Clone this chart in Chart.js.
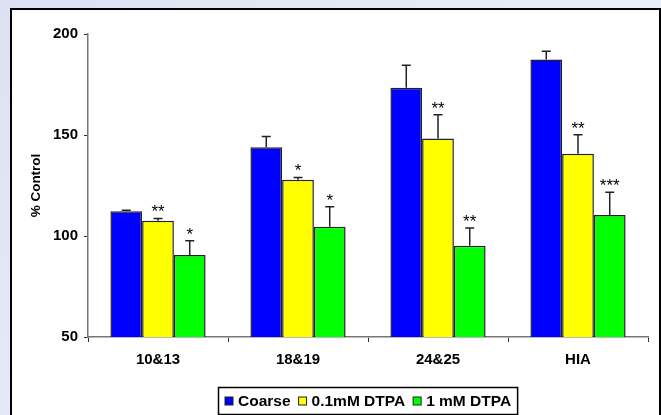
<!DOCTYPE html>
<html>
<head>
<meta charset="utf-8">
<script src="https://cdn.jsdelivr.net/npm/chart.js@4"></script>
<style>
  html, body { margin: 0; padding: 0; }
  body {
    width: 661px; height: 415px; overflow: hidden; position: relative;
    background: linear-gradient(135deg, #dde1f2 0%, #e9ebf7 50%, #f1f2fa 100%);
  }
  #frame {
    position: absolute; left: 10px; top: 8px; width: 647px; height: 420px;
    border: 2px solid #000; background: #fff;
  }
  #wrap { position: absolute; left: 0; top: 0; width: 661px; height: 415px; }
</style>
</head>
<body>
<div id="frame"></div>
<div id="wrap"><canvas id="survey" width="661" height="415"></canvas></div>
<script>
const categories = ['10&13', '18&19', '24&25', 'HIA'];
const seriesNames = ['Coarse', '0.1mM DTPA', '1 mM DTPA'];
const coarse = [112.2, 143.9, 173.4, 187.4];
const coarseErr = [0.5, 5.4, 11.1, 4.0];
const dtpaLow = [107.6, 127.9, 148.3, 140.7];
const dtpaLowErr = [1.1, 1.1, 11.7, 9.4];
const dtpaHigh = [90.6, 104.6, 95.2, 110.4];
const dtpaHighErr = [7.1, 9.9, 8.8, 11.2];
const coarseStars = ['', '', '', ''];
const dtpaLowStars = ['**', '*', '**', '**'];
const dtpaHighStars = ['*', '*', '**', '***'];
const yTicks = [50, 100, 150, 200];

const errors = [coarseErr, dtpaLowErr, dtpaHighErr];
const stars = [coarseStars, dtpaLowStars, dtpaHighStars];
const colors = ['#0000ff', '#ffff00', '#00ff00'];

// error bars (upper only) + significance stars
const errorBars = {
    id: 'errorBars',
    afterDatasetsDraw(chart) {
        const c = chart.ctx;
        const y = chart.scales.y;
        c.save();
        c.strokeStyle = '#222';
        c.lineWidth = 1.5;
        chart.data.datasets.forEach((ds, i) => {
            chart.getDatasetMeta(i).data.forEach((bar, j) => {
                const top = y.getPixelForValue(ds.data[j]);
                const cap = y.getPixelForValue(ds.data[j] + errors[i][j]);
                c.beginPath();
                c.moveTo(bar.x, top);
                c.lineTo(bar.x, cap);
                c.moveTo(bar.x - 4.5, cap);
                c.lineTo(bar.x + 4.5, cap);
                c.stroke();
                if (stars[i][j]) {
                    c.fillStyle = '#000';
                    c.font = '17px Arial, "Liberation Sans", sans-serif';
                    c.textAlign = 'center';
                    c.textBaseline = 'alphabetic';
                    c.fillText(stars[i][j], bar.x, cap - 1);
                }
            });
        });
        c.restore();
    }
};

// boxed legend under the axis
const boxLegend = {
    id: 'boxLegend',
    afterDraw(chart) {
        const c = chart.ctx;
        const area = chart.chartArea;
        c.save();
        c.font = 'bold 15.5px Arial, "Liberation Sans", sans-serif';
        const sq = 8, gapText = 5, gapItem = 8;
        const widths = chart.data.datasets.map(ds => c.measureText(ds.label).width);
        let total = 0;
        widths.forEach((w, i) => { total += sq + gapText + w + (i < widths.length - 1 ? gapItem : 0); });
        const boxW = total + 13;
        const cx = (area.left + area.right) / 2;
        const bx = Math.round(cx - boxW / 2) + 0.5;
        const by = 387.5, bh = 27;
        c.fillStyle = '#fff';
        c.fillRect(bx, by, boxW, bh);
        c.strokeStyle = '#000';
        c.lineWidth = 1.5;
        c.strokeRect(bx, by, boxW, bh);
        let x = bx + 6.5;
        const cy = by + bh / 2;
        chart.data.datasets.forEach((ds, i) => {
            c.fillStyle = ds.backgroundColor;
            c.fillRect(x, cy - sq / 2, sq, sq);
            c.strokeStyle = '#222';
            c.lineWidth = 1;
            c.strokeRect(x, cy - sq / 2, sq, sq);
            x += sq + gapText;
            c.fillStyle = '#000';
            c.textBaseline = 'middle';
            c.textAlign = 'left';
            c.fillText(ds.label, x, cy + 1);
            x += widths[i] + gapItem;
        });
        c.restore();
    }
};

const ctx = document.getElementById('survey');
const myChart = new Chart(ctx, {
    type: 'bar',
    data: {
        labels: categories,
        datasets: [coarse, dtpaLow, dtpaHigh].map((d, i) => ({
            label: seriesNames[i],
            data: d,
            backgroundColor: colors[i],
            borderColor: '#222',
            borderWidth: 1.5,
            categoryPercentage: 0.68,
            barPercentage: 1.0
        }))
    },
    options: {
        responsive: false,
        animation: false,
        devicePixelRatio: 1,
        layout: { padding: { left: 0, right: 13, top: 34, bottom: 38 } },
        plugins: {
            legend: { display: false },
            tooltip: { enabled: false }
        },
        scales: {
            x: {
                grid: { drawOnChartArea: false, drawTicks: true, tickLength: 5, color: '#333', offset: true },
                border: { display: true, color: '#777', width: 1.5 },
                ticks: {
                    color: '#000', padding: 9, maxRotation: 0,
                    font: { family: 'Arial, "Liberation Sans", sans-serif', size: 15, weight: 'bold' }
                },
                afterFit(s) { s.height = 40; }
            },
            y: {
                min: 50,
                max: 200,
                afterBuildTicks(s) { s.ticks = yTicks.map(v => ({ value: v })); },
                grid: { drawOnChartArea: false, drawTicks: true, tickLength: 4, color: '#333' },
                border: { display: true, color: '#777', width: 1.5 },
                ticks: {
                    color: '#000', padding: 6,
                    font: { family: 'Arial, "Liberation Sans", sans-serif', size: 15, weight: 'bold' }
                },
                title: {
                    display: true,
                    text: '% Control',
                    color: '#000',
                    padding: { top: 28, bottom: 0 },
                    font: { family: 'Arial, "Liberation Sans", sans-serif', size: 13.5, weight: 'bold' }
                },
                afterFit(s) { s.width = 88; }
            }
        }
    },
    plugins: [errorBars, boxLegend]
});
</script>
</body>
</html>
